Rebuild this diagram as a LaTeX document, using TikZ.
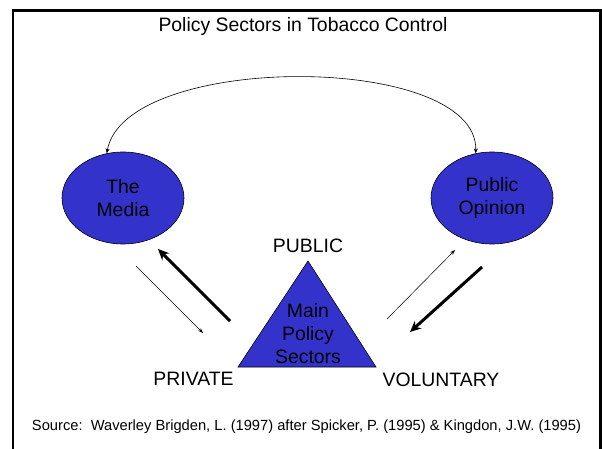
\documentclass[tikz,border=0pt]{standalone}
\usepackage{fontspec}
\setmainfont{Liberation Sans}
\usetikzlibrary{shapes.geometric,arrows.meta}
\definecolor{blobblue}{RGB}{51,51,204}
\begin{document}
\begin{tikzpicture}[x=1bp,y=-1bp,
  lbl/.style={font=\fontsize{19.4bp}{23bp}\selectfont\frenchspacing, inner sep=0pt},
  srcfont/.style={font=\fontsize{14.7bp}{17bp}\selectfont\frenchspacing, inner sep=0pt},
  blob/.style={ellipse, draw=black, line width=0.6bp, fill=blobblue, minimum width=122bp, minimum height=92bp, inner sep=0pt, align=center, lbl},
  tri/.style={draw=black, line width=0.6bp, fill=blobblue},
  thinarrow/.style={line width=0.5bp, -{Stealth[length=5bp,width=3.5bp]}},
  thickarrow/.style={line width=3bp, -{Stealth[length=11bp,width=10bp]}},
  looparrow/.style={line width=0.6bp, {Stealth[length=5bp,width=4bp]}-{Stealth[length=5bp,width=4bp]}}]
\useasboundingbox (0,0) rectangle (602,449);
% frame
\draw[line width=2.5bp] (13,449) -- (13,10.5) -- (600.5,10.5) -- (600.5,449);
% title
\node[lbl, anchor=base] (title) at (303,32) {Policy Sectors in Tobacco Control};
% ellipses
\node[blob] (media) at (123,198) {The\\Media};
\node[blob] (opinion) at (492,198) {Public\\Opinion};
% triangle
\coordinate (apex) at (308,261);
\coordinate (bl) at (238,367);
\coordinate (br) at (376,367);
\draw[tri] (apex) -- (br) -- (bl) -- cycle;
\node[lbl, align=center, anchor=base] (main) at (308,363) {Main\\Policy\\Sectors};
% sector labels
\node[lbl, anchor=base] (public) at (308,253) {PUBLIC};
\node[lbl, anchor=base] (private) at (193.5,385) {PRIVATE};
\node[lbl, anchor=base] (voluntary) at (441,386) {VOLUNTARY};
% loop arrow
\draw[looparrow] (media.110) .. controls (125,52) and (478,52) .. (opinion.110);
% arrows left
\coordinate (lt1s) at (136,266);
\coordinate (lt1e) at (203,333);
\coordinate (lk1s) at (230,321);
\coordinate (lk1e) at (158,249);
\draw[thinarrow] (lt1s) -- (lt1e);
\draw[thickarrow] (lk1s) -- (lk1e);
% arrows right
\coordinate (rt1s) at (387,319);
\coordinate (rt1e) at (455,250);
\coordinate (rk1s) at (482,267);
\coordinate (rk1e) at (410,332);
\draw[thinarrow] (rt1s) -- (rt1e);
\draw[thickarrow] (rk1s) -- (rk1e);
% source
\node[srcfont, anchor=base] (source) at (306.5,430) {Source:\ \ Waverley Brigden, L. (1997) after Spicker, P. (1995) \& Kingdon, J.W. (1995)};
\end{tikzpicture}
\end{document}
